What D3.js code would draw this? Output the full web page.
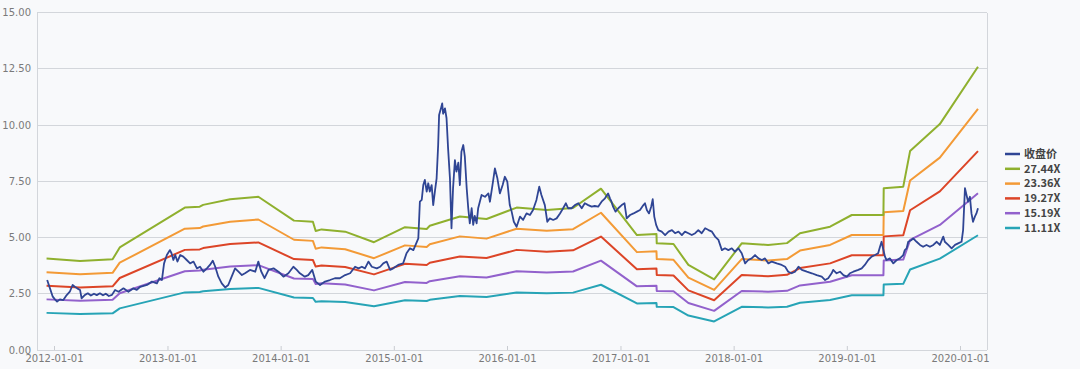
<!DOCTYPE html>
<html>
<head>
<meta charset="utf-8">
<script src="https://cdn.jsdelivr.net/npm/d3@7"></script>
<style>
  body { margin: 0; background: #f8f9fb; }
</style>
</head>
<body>
<div id="chart"></div>
<script>
// 收盘价 (date, close)
const closePrice = [
  ["2011-12-10",3.11],["2011-12-19",2.74],["2011-12-28",2.37],["2012-01-04",2.25],["2012-01-11",2.15],
  ["2012-01-20",2.25],["2012-01-31",2.22],["2012-02-11",2.44],["2012-02-21",2.59],["2012-03-01",2.89],
  ["2012-03-08",2.81],["2012-03-16",2.74],["2012-03-25",2.67],["2012-03-30",2.30],["2012-04-10",2.45],
  ["2012-04-19",2.52],["2012-04-29",2.42],["2012-05-09",2.50],["2012-05-18",2.44],["2012-05-28",2.52],
  ["2012-06-07",2.43],["2012-06-16",2.50],["2012-06-26",2.40],["2012-07-06",2.45],["2012-07-16",2.67],
  ["2012-07-27",2.59],["2012-08-12",2.74],["2012-08-28",2.59],["2012-09-13",2.74],["2012-09-24",2.67],
  ["2012-10-05",2.81],["2012-10-27",2.89],["2012-11-12",3.04],["2012-11-28",2.96],["2012-12-06",3.19],
  ["2012-12-14",3.11],["2012-12-21",3.85],["2012-12-30",4.22],["2013-01-09",4.44],["2013-01-14",4.30],
  ["2013-01-20",4.00],["2013-01-26",4.22],["2013-02-02",3.93],["2013-02-11",4.22],["2013-02-21",4.15],
  ["2013-03-04",4.00],["2013-03-15",3.85],["2013-03-26",3.93],["2013-04-06",3.63],["2013-04-16",3.70],
  ["2013-04-27",3.48],["2013-05-08",3.63],["2013-05-18",3.78],["2013-05-27",3.97],["2013-06-04",3.70],
  ["2013-06-14",3.26],["2013-06-25",2.96],["2013-07-06",2.78],["2013-07-16",2.89],["2013-07-27",3.26],
  ["2013-08-07",3.63],["2013-08-18",3.48],["2013-08-29",3.33],["2013-09-08",3.41],["2013-09-24",3.56],
  ["2013-10-11",3.48],["2013-10-21",3.93],["2013-10-30",3.50],["2013-11-10",3.19],["2013-11-23",3.56],
  ["2013-12-09",3.63],["2013-12-25",3.48],["2014-01-10",3.26],["2014-01-26",3.41],["2014-02-11",3.70],
  ["2014-02-22",3.56],["2014-03-04",3.41],["2014-03-20",3.26],["2014-03-31",3.33],["2014-04-13",3.56],
  ["2014-04-24",3.04],["2014-05-08",2.89],["2014-05-24",3.04],["2014-06-09",3.11],["2014-06-25",3.19],
  ["2014-07-11",3.19],["2014-07-28",3.33],["2014-08-13",3.41],["2014-08-29",3.70],["2014-09-09",3.63],
  ["2014-09-20",3.70],["2014-09-30",3.63],["2014-10-11",3.93],["2014-10-22",3.70],["2014-11-07",3.63],
  ["2014-11-18",3.70],["2014-11-28",3.85],["2014-12-09",3.93],["2014-12-20",3.56],["2014-12-30",3.63],
  ["2015-01-15",3.78],["2015-01-31",3.85],["2015-02-11",4.30],["2015-02-22",4.52],["2015-03-05",4.44],
  ["2015-03-21",4.96],["2015-03-26",6.59],["2015-04-01",6.67],["2015-04-06",7.33],["2015-04-11",7.56],
  ["2015-04-17",7.04],["2015-04-22",7.41],["2015-04-27",7.04],["2015-05-03",7.33],["2015-05-08",6.44],
  ["2015-05-14",7.11],["2015-05-19",7.63],["2015-05-24",9.11],["2015-05-27",10.44],["2015-06-02",10.74],
  ["2015-06-06",10.96],["2015-06-09",10.50],["2015-06-15",10.74],["2015-06-20",10.30],["2015-06-25",8.96],
  ["2015-07-01",7.63],["2015-07-06",5.41],["2015-07-11",7.19],["2015-07-17",8.44],["2015-07-22",7.93],
  ["2015-07-28",8.33],["2015-08-02",7.33],["2015-08-07",8.81],["2015-08-13",9.11],["2015-08-18",8.59],
  ["2015-08-24",7.19],["2015-08-29",6.30],["2015-09-03",5.63],["2015-09-09",6.30],["2015-09-14",5.56],
  ["2015-09-19",5.96],["2015-09-25",5.63],["2015-09-30",6.30],["2015-10-11",6.89],["2015-10-22",6.81],
  ["2015-11-02",6.96],["2015-11-07",6.59],["2015-11-16",7.41],["2015-11-23",8.07],["2015-12-01",7.63],
  ["2015-12-09",6.96],["2015-12-18",7.33],["2015-12-25",7.70],["2016-01-02",7.48],["2016-01-10",6.44],
  ["2016-01-16",6.15],["2016-01-23",5.70],["2016-02-01",5.48],["2016-02-12",5.93],["2016-02-22",5.78],
  ["2016-03-04",6.07],["2016-03-15",6.00],["2016-03-25",6.22],["2016-04-05",6.67],["2016-04-14",7.26],
  ["2016-04-21",6.89],["2016-05-02",6.44],["2016-05-10",5.70],["2016-05-18",5.85],["2016-05-29",5.78],
  ["2016-06-09",5.85],["2016-06-20",6.07],["2016-06-30",6.30],["2016-07-09",6.52],["2016-07-16",6.30],
  ["2016-07-27",6.30],["2016-08-07",6.44],["2016-08-18",6.52],["2016-08-29",6.30],["2016-09-08",6.52],
  ["2016-09-19",6.44],["2016-09-30",6.37],["2016-10-10",6.40],["2016-10-21",6.37],["2016-11-01",6.59],
  ["2016-11-12",6.74],["2016-11-22",6.96],["2016-11-28",6.74],["2016-12-03",6.59],["2016-12-08",6.37],
  ["2016-12-16",6.15],["2016-12-25",6.30],["2017-01-05",6.44],["2017-01-14",6.52],["2017-01-21",5.85],
  ["2017-02-01",6.00],["2017-02-12",6.07],["2017-02-23",6.15],["2017-03-05",6.22],["2017-03-16",6.44],
  ["2017-03-21",6.52],["2017-03-27",6.22],["2017-04-03",6.07],["2017-04-10",6.37],["2017-04-15",6.70],
  ["2017-04-20",5.93],["2017-04-26",5.56],["2017-05-03",5.33],["2017-05-14",5.26],["2017-05-25",5.11],
  ["2017-06-05",5.26],["2017-06-16",5.33],["2017-06-26",5.19],["2017-07-07",5.26],["2017-07-18",5.11],
  ["2017-07-28",5.26],["2017-08-08",5.19],["2017-08-19",5.11],["2017-08-30",5.19],["2017-09-09",5.33],
  ["2017-09-20",5.19],["2017-10-01",5.41],["2017-10-12",5.33],["2017-10-23",5.26],["2017-11-02",5.04],
  ["2017-11-13",4.89],["2017-11-24",4.44],["2017-12-04",4.52],["2017-12-15",4.44],["2017-12-26",4.52],
  ["2018-01-05",4.37],["2018-01-16",4.52],["2018-01-27",4.30],["2018-02-07",3.85],["2018-02-17",4.00],
  ["2018-02-28",4.07],["2018-03-11",4.22],["2018-03-22",4.07],["2018-04-02",4.00],["2018-04-12",4.07],
  ["2018-04-23",3.85],["2018-05-04",3.93],["2018-05-20",3.85],["2018-06-05",3.78],["2018-06-16",3.70],
  ["2018-06-26",3.48],["2018-07-07",3.41],["2018-07-18",3.48],["2018-07-29",3.70],["2018-08-09",3.56],
  ["2018-08-25",3.48],["2018-09-10",3.41],["2018-09-26",3.33],["2018-10-12",3.26],["2018-10-23",3.11],
  ["2018-11-02",3.19],["2018-11-13",3.41],["2018-11-18",3.56],["2018-11-29",3.41],["2018-12-10",3.48],
  ["2018-12-21",3.33],["2019-01-01",3.26],["2019-01-11",3.41],["2019-01-22",3.48],["2019-02-07",3.56],
  ["2019-02-18",3.63],["2019-02-28",3.78],["2019-03-11",4.00],["2019-03-22",4.15],["2019-04-02",4.22],
  ["2019-04-12",4.30],["2019-04-18",4.59],["2019-04-23",4.81],["2019-04-29",4.44],["2019-05-04",4.15],
  ["2019-05-09",4.00],["2019-05-20",4.07],["2019-05-31",3.85],["2019-06-11",4.00],["2019-06-21",4.07],
  ["2019-07-02",4.22],["2019-07-07",4.44],["2019-07-13",4.52],["2019-07-18",4.81],["2019-07-29",4.89],
  ["2019-08-03",4.96],["2019-08-14",4.81],["2019-08-25",4.67],["2019-09-04",4.59],["2019-09-15",4.67],
  ["2019-09-26",4.59],["2019-10-07",4.67],["2019-10-18",4.81],["2019-10-28",4.67],["2019-11-08",5.04],
  ["2019-11-13",4.81],["2019-11-24",4.67],["2019-12-05",4.52],["2019-12-16",4.67],["2019-12-26",4.74],
  ["2020-01-06",4.81],["2020-01-11",5.33],["2020-01-17",7.19],["2020-01-22",6.89],["2020-01-27",6.59],
  ["2020-02-02",6.81],["2020-02-07",6.07],["2020-02-12",5.70],["2020-02-18",5.93],["2020-02-23",6.07],
  ["2020-02-28",6.30]
];

// PE band vertices
const bandDates = [
  "2011-12-08","2012-03-25","2012-07-08","2012-07-31","2013-02-26","2013-04-15","2013-04-26",
  "2013-07-22","2013-10-21","2014-02-13","2014-04-15","2014-04-24","2014-05-13","2014-07-28",
  "2014-10-29","2015-02-06","2015-04-17","2015-04-27","2015-08-02","2015-10-27","2016-02-01",
  "2016-05-08","2016-08-01","2016-10-30","2017-02-23","2017-04-27","2017-04-28","2017-06-21",
  "2017-08-08","2017-10-30","2018-01-27","2018-04-22","2018-06-22","2018-08-03","2018-11-08",
  "2019-01-17","2019-04-29","2019-04-30","2019-07-02","2019-07-24","2019-10-28","2020-02-28"
];
const pe2744 = [4.07,3.96,4.03,4.56,6.33,6.37,6.45,6.70,6.81,5.75,5.70,5.29,5.36,5.26,4.79,5.46,5.38,5.52,
  5.93,5.82,6.33,6.22,6.31,7.17,5.11,5.16,4.74,4.71,3.78,3.14,4.74,4.67,4.75,5.19,5.48,6.00,6.00,7.19,
  7.26,8.84,10.04,12.59];
const pe2336 = [3.46,3.37,3.43,3.88,5.39,5.42,5.49,5.70,5.80,4.90,4.85,4.50,4.56,4.48,4.08,4.65,4.58,4.70,
  5.05,4.95,5.39,5.30,5.37,6.10,4.35,4.39,4.04,4.01,3.22,2.67,4.04,3.98,4.04,4.42,4.67,5.11,5.11,6.12,
  6.18,7.53,8.55,10.72];
const pe1927 = [2.86,2.78,2.83,3.20,4.45,4.47,4.53,4.71,4.78,4.04,4.00,3.71,3.76,3.69,3.36,3.83,3.78,3.88,
  4.16,4.09,4.45,4.37,4.43,5.04,3.59,3.62,3.33,3.31,2.65,2.21,3.33,3.28,3.34,3.64,3.85,4.21,4.21,5.05,
  5.10,6.21,7.05,8.84];
const pe1519 = [2.25,2.19,2.23,2.52,3.50,3.53,3.57,3.71,3.77,3.18,3.16,2.93,2.97,2.91,2.65,3.02,2.98,3.06,
  3.28,3.22,3.50,3.44,3.49,3.97,2.83,2.86,2.62,2.61,2.09,1.74,2.62,2.59,2.63,2.87,3.03,3.32,3.32,3.98,
  4.02,4.89,5.56,6.97];
const pe1111 = [1.65,1.60,1.63,1.85,2.56,2.58,2.61,2.71,2.76,2.33,2.31,2.14,2.17,2.13,1.94,2.21,2.18,2.23,
  2.40,2.36,2.56,2.52,2.55,2.90,2.07,2.09,1.92,1.91,1.53,1.27,1.92,1.89,1.92,2.10,2.22,2.43,2.43,2.91,
  2.94,3.58,4.06,5.10];

const seriesNames = ["收盘价", "27.44X", "23.36X", "19.27X", "15.19X", "11.11X"];
const seriesColors = ["#2f4594", "#8fb02e", "#f39a36", "#dc4527", "#9261cc", "#27a4b6"];
const yTicks = [0, 2.5, 5, 7.5, 10, 12.5, 15];
const xTickLabels = ["2012-01-01","2013-01-01","2014-01-01","2015-01-01","2016-01-01",
  "2017-01-01","2018-01-01","2019-01-01","2020-01-01"];

const width = 1080, height = 369;
const plot = { left: 37, right: 987, top: 12.5, bottom: 350 };
const parse = d3.timeParse("%Y-%m-%d");

const svg = d3.select("#chart").append("svg")
  .attr("width", width).attr("height", height)
  .style("font-family", "'DejaVu Sans', sans-serif");

svg.append("rect").attr("width", width).attr("height", height).attr("fill", "#f8f9fb");

const x = d3.scaleTime()
  .domain([parse("2012-01-01"), parse("2020-01-01")])
  .range([54, 960]);
const y = d3.scaleLinear().domain([0, 15]).range([plot.bottom, plot.top]);

// grid
svg.append("g").selectAll("line").data(yTicks).join("line")
  .attr("x1", plot.left).attr("x2", plot.right)
  .attr("y1", d => y(d)).attr("y2", d => y(d))
  .attr("stroke", "#d3d6db").attr("stroke-width", 1)
  .attr("shape-rendering", "crispEdges");

// frame sides
svg.append("line").attr("x1", plot.left).attr("x2", plot.left)
  .attr("y1", plot.top).attr("y2", plot.bottom)
  .attr("stroke", "#d3d6db").attr("shape-rendering", "crispEdges");
svg.append("line").attr("x1", plot.right).attr("x2", plot.right)
  .attr("y1", plot.top).attr("y2", plot.bottom)
  .attr("stroke", "#d3d6db").attr("shape-rendering", "crispEdges");

// y axis labels
const yAxis = svg.append("g")
  .attr("transform", `translate(${plot.left},0)`)
  .call(d3.axisLeft(y).tickValues(yTicks).tickFormat(d3.format(".2f")).tickSize(0).tickPadding(6));
yAxis.select(".domain").remove();
yAxis.selectAll("text").attr("fill", "#7a7a7a").attr("font-size", 10)
  .attr("font-family", "'DejaVu Sans', sans-serif");

// x axis
const xAxis = svg.append("g")
  .attr("transform", `translate(0,${plot.bottom})`)
  .call(d3.axisTop(x).tickValues(xTickLabels.map(parse)).tickFormat(d3.timeFormat("%Y-%m-%d"))
    .tickSize(4).tickPadding(0));
xAxis.select(".domain").remove();
xAxis.selectAll(".tick line").attr("stroke", "#c9ccd1");
xAxis.selectAll("text").attr("fill", "#7a7a7a").attr("font-size", 10)
  .attr("font-family", "'DejaVu Sans', sans-serif")
  .attr("y", 12).attr("dy", 0);

// lines
const line = d3.line().x(d => x(d[0])).y(d => y(d[1]));
const bands = [pe2744, pe2336, pe1927, pe1519, pe1111];
const allSeries = [closePrice.map(d => [parse(d[0]), d[1]])]
  .concat(bands.map(vals => bandDates.map((d, i) => [parse(d), vals[i]])));

// draw bands first, price on top
[5, 4, 3, 2, 1, 0].forEach(i => {
  svg.append("path")
    .datum(allSeries[i])
    .attr("fill", "none")
    .attr("stroke", seriesColors[i])
    .attr("stroke-width", i === 0 ? 1.8 : 2)
    .attr("stroke-linejoin", "round")
    .attr("d", line);
});

// legend
const legend = svg.append("g").attr("transform", "translate(1005,154)");
const item = legend.selectAll("g").data(seriesNames).join("g")
  .attr("transform", (d, i) => `translate(0,${i * 14.8})`);
item.append("line").attr("x1", 0).attr("x2", 15)
  .attr("stroke", (d, i) => seriesColors[i]).attr("stroke-width", 2.5);
item.append("text").attr("x", 19).attr("dy", "0.35em")
  .attr("font-size", 11).attr("font-weight", "bold")
  .attr("font-family", "'Noto Sans CJK SC', 'Noto Sans', sans-serif")
  .attr("fill", "#444").text(d => d);
</script>
</body>
</html>
